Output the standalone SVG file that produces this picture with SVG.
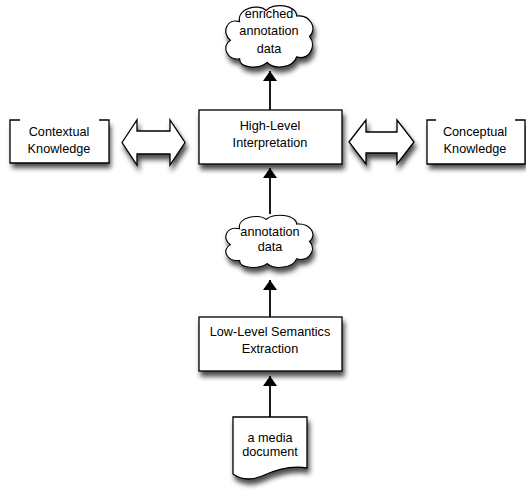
<svg xmlns="http://www.w3.org/2000/svg" width="526" height="495" viewBox="0 0 526 495">
<defs>
  <filter id="sh" x="-20%" y="-20%" width="150%" height="160%">
    <feDropShadow dx="2" dy="5" stdDeviation="2.5" flood-color="#000" flood-opacity="0.7"/>
  </filter>
  <marker id="ah" viewBox="0 0 10 14" refX="10" refY="7" markerWidth="10" markerHeight="14" markerUnits="userSpaceOnUse" orient="auto">
    <path d="M0,0 L10,7 L0,14 Z" fill="#000"/>
  </marker>
  <path id="cloud" d="M18,20 C15,6 38,0 47,8 C55,-1 80,2 80,14 C95,12 103,28 94,36 C102,46 94,62 80,58 C76,70 56,72 48,64 C38,72 18,70 18,60 C4,62 -2,46 8,40 C-2,32 4,16 18,20 Z"/>
</defs>
<style>
  .shape { fill: #fff; stroke: #000; stroke-width: 1.3; filter: url(#sh); }
  .cl { fill: #fff; stroke: #000; stroke-width: 1.3; vector-effect: non-scaling-stroke; }
  .edge { stroke: #000; stroke-width: 1.8; fill: none; marker-end: url(#ah); }
  text { font-family: "Liberation Sans", Arial, sans-serif; font-size: 12.7px; fill: #000; text-anchor: middle; }
</style>
<rect width="526" height="495" fill="#fff"/>

<g id="connectors">
  <line class="edge" x1="270" y1="110" x2="270" y2="71"/>
  <line class="edge" x1="270" y1="214" x2="270" y2="168"/>
  <line class="edge" x1="270" y1="317" x2="270" y2="280"/>
  <line class="edge" x1="270" y1="417" x2="270" y2="376"/>
</g>

<g id="enriched-annotation-data">
  <g filter="url(#sh)"><use href="#cloud" class="cl" transform="translate(223,3) scale(0.92,0.93)"/></g>
  <text x="269" y="18">enriched</text>
  <text x="269" y="35">annotation</text>
  <text x="269" y="53">data</text>
</g>

<g id="contextual-knowledge">
  <rect x="10" y="120" width="99" height="43" fill="#fff" filter="url(#sh)"/>
  <path d="M20,120 H10 V163 H109 V120 H99" fill="none" stroke="#000" stroke-width="1.3"/>
  <text x="59" y="136">Contextual</text>
  <text x="59" y="153">Knowledge</text>
</g>

<g id="left-double-arrow">
  <path class="shape" d="M122,142.5 L137,120 L137,131 L170,131 L170,120 L185,142.5 L170,165 L170,154 L137,154 L137,165 Z"/>
</g>

<g id="high-level-interpretation">
  <rect class="shape" x="199" y="110" width="143" height="54"/>
  <text x="270" y="130">High-Level</text>
  <text x="270" y="147">Interpretation</text>
</g>

<g id="right-double-arrow">
  <path class="shape" d="M349,142 L366,120 L366,132 L397,132 L397,120 L414,142 L397,164 L397,153 L366,153 L366,164 Z"/>
</g>

<g id="conceptual-knowledge">
  <rect x="427" y="120" width="98" height="44" fill="#fff" filter="url(#sh)"/>
  <path d="M436,120 H427 V164 H525 V120 H515" fill="none" stroke="#000" stroke-width="1.3"/>
  <text x="475" y="136">Conceptual</text>
  <text x="475" y="153">Knowledge</text>
</g>

<g id="annotation-data">
  <g filter="url(#sh)"><use href="#cloud" class="cl" transform="translate(223,213) scale(0.92,0.79)"/></g>
  <text x="270" y="236">annotation</text>
  <text x="270" y="251">data</text>
</g>

<g id="low-level-semantics-extraction">
  <rect class="shape" x="199" y="317" width="143" height="54"/>
  <text x="270" y="336">Low-Level Semantics</text>
  <text x="270" y="353">Extraction</text>
</g>

<g id="a-media-document">
  <path class="shape" d="M233,417 H307 V468 C290,465 275,470 262,476 C250,481 240,479 233,474 Z"/>
  <text x="270" y="442">a media</text>
  <text x="270" y="456">document</text>
</g>
</svg>
